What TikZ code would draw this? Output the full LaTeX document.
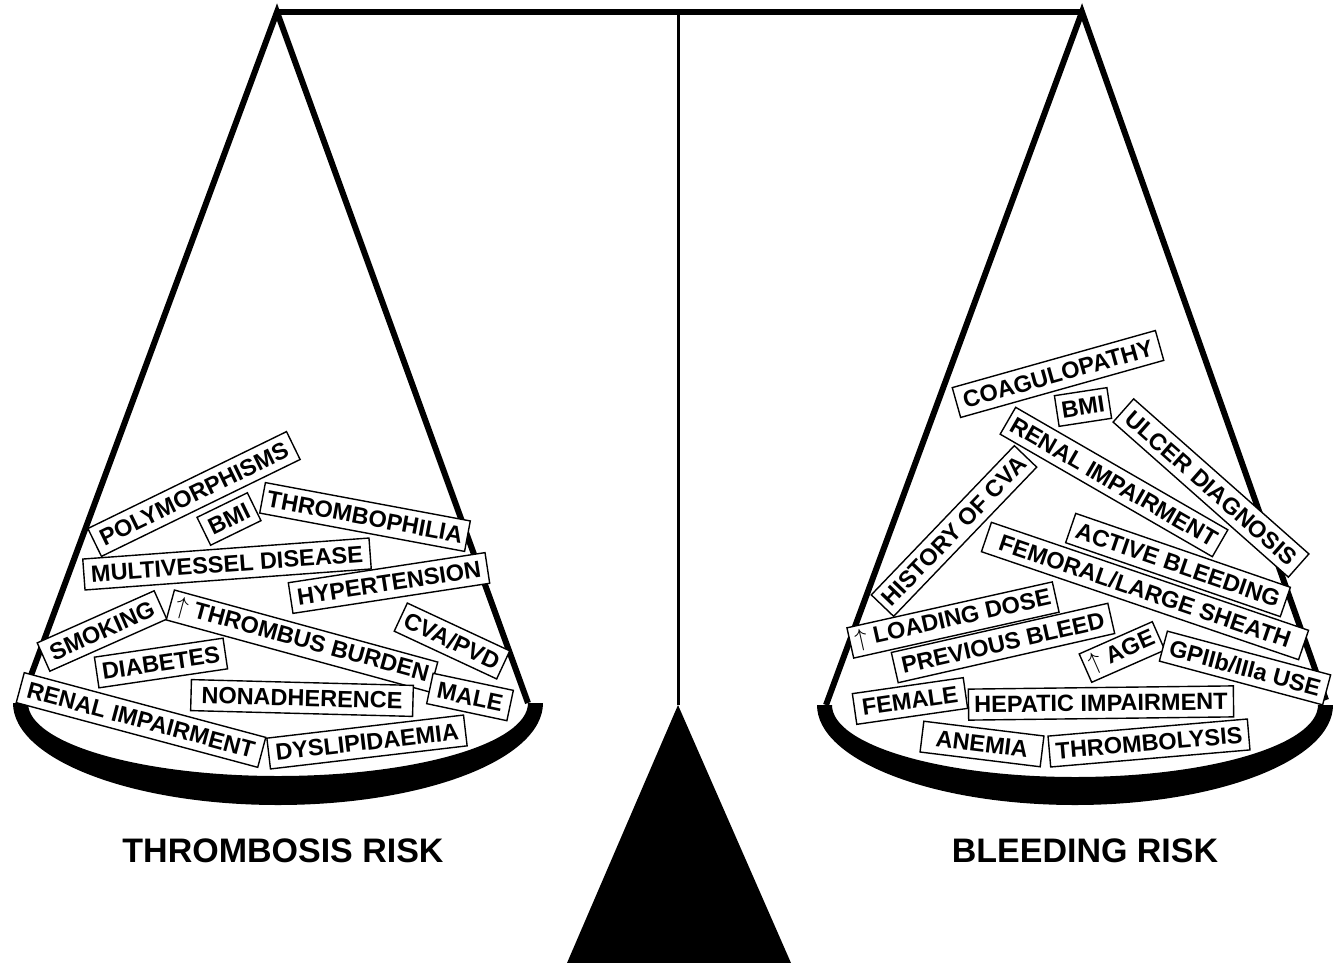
\documentclass[tikz,border=0pt]{standalone}
\usepackage{fontspec}
\setmainfont{Liberation Sans}
\usepackage{tikz}

\begin{document}
\begin{tikzpicture}[
  x=1pt,y=-1pt,
  tag/.style={draw,fill=white,line width=1.4pt,inner xsep=5pt,inner ysep=0pt,
    minimum height=31pt,font=\fontsize{23.5}{25}\selectfont\bfseries},
  rope/.style={line width=6pt,line join=miter},
  ]
  \tikzset{%
    title/.style={
      font=\fontsize{34}{40}\selectfont\bfseries,
    },
  }
  \useasboundingbox (0,0) rectangle (1333,963);
  %Frame
  \coordinate (tl) at (277,12);
  \coordinate (tm) at (678,12);
  \coordinate (tr) at (1082,12);
  \coordinate (pv) at (678,705);
  \coordinate (ll) at (20,705);
  \coordinate (lr) at (528,703);
  \coordinate (rl) at (826,705);
  \coordinate (rr) at (1326,700);
  \draw[line width=6pt] (tl) -- (tr);
  \draw[line width=3pt] (tm) -- (pv);
  \fill (pv) -- (567,963) -- (791,963) -- cycle;
  \draw[rope] (ll) -- (tl) -- (lr);
  \draw[rope] (rl) -- (tr) -- (rr);
  % Pans
  \fill (13,703) arc[start angle=180,end angle=360,x radius=265pt,y radius=102pt]
    -- (528,703) arc[start angle=360,end angle=180,x radius=250pt,y radius=73pt] -- cycle;
  \fill (817,705) arc[start angle=180,end angle=360,x radius=258pt,y radius=100pt]
    -- (1318,705) arc[start angle=360,end angle=180,x radius=243pt,y radius=72pt] -- cycle;
  %Thrombosis
  \node[tag,rotate=26,minimum width=221pt](t1) at (194,494){POLYMORPHISMS};
  \node[tag,rotate=26,minimum width=56pt](t2) at (229,519){BMI};
  \node[tag,rotate=-10.6,minimum width=207pt](t3) at (365,517){THROMBOPHILIA};
  \node[tag,rotate=4.2,minimum width=287pt](t4) at (227,564){MULTIVESSEL DISEASE};
  \node[tag,rotate=8.7,minimum width=199pt](t5) at (389,583){HYPERTENSION};
  \node[tag,rotate=24,minimum width=128pt](t6) at (102,631){SMOKING};
  \node[tag,rotate=-15.3,minimum width=273pt](t7) at (302,641){$\uparrow$ THROMBUS BURDEN};
  \node[tag,rotate=-25,minimum width=113pt](t8) at (452,641){CVA/PVD};
  \node[tag,rotate=8.4,minimum width=130pt](t9) at (161,663){DIABETES};
  \node[tag,rotate=-15,minimum width=250pt](t10) at (141,720){RENAL IMPAIRMENT};
  \node[tag,rotate=-1.5,minimum width=222pt](t11) at (302,698){NONADHERENCE};
  \node[tag,rotate=-12,minimum width=82pt](t12) at (470,697){MALE};
  \node[tag,rotate=6.7,minimum width=198pt](t13) at (367,742){DYSLIPIDAEMIA};
  %Bleeding
  \node[tag,rotate=-19,minimum width=227pt](b6) at (1178,565){ACTIVE BLEEDING};
  \node[tag,rotate=15.7,minimum width=211pt](b1) at (1058,374){COAGULOPATHY};
  \node[tag,rotate=8.7,minimum width=53pt](b2) at (1083,407){BMI};
  \node[tag,rotate=-30,minimum width=245pt](b3) at (1114,482){RENAL IMPAIRMENT};
  \node[tag,rotate=-41.5,minimum width=234pt](b4) at (1211,488){ULCER DIAGNOSIS};
  \node[tag,rotate=46.2,minimum width=204pt](b5) at (954,531){HISTORY OF CVA};
  \node[tag,rotate=-18.8,minimum width=335pt](b7) at (1145,591){FEMORAL/LARGE SHEATH};
  \node[tag,rotate=12.6,minimum width=207pt](b8) at (953,620){$\uparrow$ LOADING DOSE};
  \node[tag,rotate=12.8,minimum width=222pt](b9) at (1003,643){PREVIOUS BLEED};
  \node[tag,rotate=23.8,minimum width=74pt](b10) at (1122,652){$\uparrow$ AGE};
  \node[tag,rotate=-15,minimum width=169pt](b11) at (1245,668){GPIIb/IIIa USE};
  \node[tag,rotate=8.2,minimum width=112pt](b12) at (910,701){FEMALE};
  \node[tag,rotate=0.7,minimum width=265pt](b13) at (1101,703){HEPATIC IMPAIRMENT};
  \node[tag,rotate=-7,minimum width=121pt](b14) at (982,744){ANEMIA};
  \node[tag,rotate=4.9,minimum width=200pt](b15) at (1149,743){THROMBOLYSIS};
  %Titles
  \node[title](thr) at (283,851){THROMBOSIS RISK};
  \node[title](ble) at (1085,851){BLEEDING RISK};
\end{tikzpicture}
\end{document}
